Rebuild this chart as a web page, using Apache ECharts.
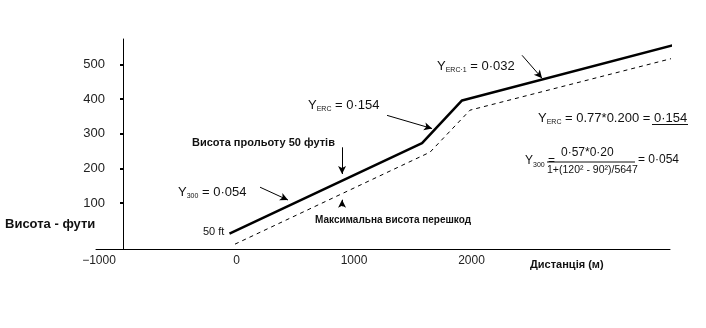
<!DOCTYPE html>
<html><head><meta charset="utf-8">
<script src="https://cdn.jsdelivr.net/npm/echarts@6/dist/echarts.min.js"></script>
<style>html,body{margin:0;padding:0;background:#fff}#c{width:706px;height:328px}</style>
</head><body><div id="c"></div>
<script>
// Data (distance m, height ft)
const flightPathX = [-60, 1579, 1919, 3715];
const flightPathY = [12, 273, 396, 555];
const obstacleX = [-13, 1647, 1987, 3706];
const obstacleY = [-18, 247, 368, 517];
const xTickLabels = [-1000, 0, 1000, 2000];
const yTickLabels = [100, 200, 300, 400, 500];

const FONT = '"Liberation Sans", Arial, sans-serif';
const chart = echarts.init(document.getElementById('c'));
const pairs = (xs, ys) => xs.map((x, i) => [x, ys[i]]);

function arrow(a, b) {
  return [{coord: a, symbol: 'none'}, {coord: b, symbol: 'arrow', symbolSize: [6, 8]}];
}

function txt(left, y, text, font, size) {
  return {
    type: 'text', left: left, top: y - Math.round(size / 2),
    style: {text: text, font: font, fill: '#111'}
  };
}
function richTxt(left, y, text, fs) {
  fs = fs || 13;
  return {
    type: 'text', left: left, top: y - 5,
    style: {
      text: text, fill: '#111', font: fs + 'px ' + FONT,
      rich: {
        b: {fontSize: fs, fontFamily: FONT, fill: '#111'},
        s: {fontSize: 7, fontFamily: FONT, fill: '#111', padding: [8, 0, 0, 0]}
      }
    }
  };
}

chart.setOption({
  animation: false,
  backgroundColor: '#fff',
  grid: {left: 96, right: 36, top: 39, bottom: 79, outerBoundsMode: 'none'},
  xAxis: {
    type: 'value', min: -1196, max: 3689,
    splitLine: {show: false},
    axisTick: {show: false},
    axisLine: {onZero: false, lineStyle: {color: '#000', width: 1}},
    axisLabel: {
      color: '#222', fontFamily: FONT, fontSize: 12, margin: 6,
      showMinLabel: false, showMaxLabel: false,
      formatter: v => {
        if (!xTickLabels.includes(v)) return '';
        if (v < 0) return '{m|−' + Math.abs(v) + '}';
        return String(v);
      },
      rich: {m: {color: '#222', fontFamily: FONT, fontSize: 12, padding: [0, 40, 0, 0]}}
    }
  },
  yAxis: {
    type: 'value', min: -32, max: 573, offset: -27,
    splitLine: {show: false},
    axisLine: {show: true, onZero: false, lineStyle: {color: '#000', width: 1}},
    axisTick: {show: true, length: 3, customValues: yTickLabels, lineStyle: {color: '#000', width: 2}},
    axisLabel: {
      color: '#222', fontFamily: FONT, fontSize: 13, margin: 18,
      customValues: yTickLabels,
      formatter: v => String(v)
    }
  },
  series: [
    {
      type: 'line', data: pairs(flightPathX, flightPathY), symbol: 'none', clip: false,
      lineStyle: {color: '#000', width: 2.5}
    },
    {
      type: 'line', data: pairs(obstacleX, obstacleY), symbol: 'none', clip: false,
      lineStyle: {color: '#000', width: 1, type: [4, 4]}
    },
    {
      type: 'line', data: [], symbol: 'none',
      markLine: {
        silent: true, animation: false, label: {show: false},
        lineStyle: {color: '#000', width: 1, type: 'solid'},
        data: [
          arrow([898, 261], [898, 184]),
          arrow([200, 146], [438, 109]),
          arrow([898, 91], [898, 110]),
          arrow([1281, 353], [1664, 315]),
          arrow([2430, 526], [2600, 460])
        ]
      }
    }
  ],
  graphic: [
    txt(5, 225, 'Висота - фути', 'bold 13px ' + FONT, 13),
    txt(530, 265, 'Дистанція (м)', 'bold 11px ' + FONT, 11),
    txt(192, 143, 'Висота прольоту 50 футів', 'bold 11px ' + FONT, 11),
    txt(315, 220, 'Максимальна висота перешкод', 'bold 10px ' + FONT, 10),
    txt(203, 232, '50 ft', '11px ' + FONT, 11),
    richTxt(178, 191, '{b|Y}{s|300}{b| = 0·054}'),
    richTxt(308, 104, '{b|Y}{s|ERC}{b| = 0·154}'),
    richTxt(437, 65, '{b|Y}{s|ERC·1}{b| = 0·032}'),
    richTxt(538, 117, '{b|Y}{s|ERC}{b| = 0.77*0.200 = 0·154}'),
    {type: 'line', shape: {x1: 652, y1: 124.5, x2: 688, y2: 124.5}, style: {stroke: '#111', lineWidth: 1}},
    richTxt(525, 160, '{b|Y}{s|300}{b| =}', 12),
    txt(561, 153, '0·57*0·20', '12px ' + FONT, 12),
    {type: 'line', shape: {x1: 547, y1: 162, x2: 635, y2: 162}, style: {stroke: '#111', lineWidth: 1}},
    txt(547, 171, '1+(120² - 90²)/5647', '10.5px ' + FONT, 11),
    txt(638, 160, '= 0·054', '12px ' + FONT, 12)
  ]
});
</script>
</body></html>
